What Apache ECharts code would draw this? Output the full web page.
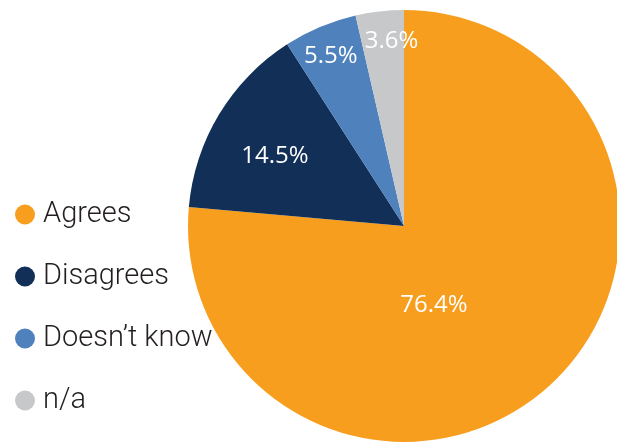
<!DOCTYPE html>
<html>
<head>
<meta charset="utf-8">
<script src="https://cdn.jsdelivr.net/npm/echarts@6/dist/echarts.min.js"></script>
<style>
html,body{margin:0;padding:0;background:#fff;}
#chart{width:617px;height:443px;}
</style>
</head>
<body>
<div id="chart"></div>
<script>
const categories = ['Agrees', 'Disagrees', 'Doesn\u2019t know', 'n/a'];
const values = [76.4, 14.5, 5.5, 3.6];
const colors = ['#F89E1E', '#112F57', '#4F81BD', '#C7C8CA'];
// per-slice label nudges (pixels), styling only
const labelNudge = [[-45, -3], [-34, -12], [-30, -68], [0, -75]];

const chart = echarts.init(document.getElementById('chart'), null, {renderer: 'canvas'});
chart.setOption({
  animation: false,
  backgroundColor: '#ffffff',
  color: colors,
  legend: {
    orient: 'vertical',
    left: 10,
    top: 195,
    icon: 'circle',
    itemWidth: 20,
    itemHeight: 20,
    itemGap: 33,
    textStyle: {
      fontFamily: 'Roboto',
      fontWeight: 300,
      fontSize: 29,
      lineHeight: 29,
      color: '#231F20',
      padding: [0, 0, 0, 3]
    },
    data: categories
  },
  series: [{
    type: 'pie',
    center: [404, 226],
    radius: 216,
    startAngle: 90,
    clockwise: true,
    avoidLabelOverlap: false,
    label: {
      show: true,
      position: 'inside',
      formatter: p => p.value.toFixed(1) + '%',
      color: '#ffffff',
      fontFamily: 'Open Sans',
      fontSize: 24
    },
    labelLine: {show: false},
    labelLayout: function (params) {
      const n = labelNudge[params.dataIndex] || [0, 0];
      return {dx: n[0], dy: n[1]};
    },
    itemStyle: {borderWidth: 0},
    emphasis: {disabled: true},
    data: categories.map((c, i) => ({name: c, value: values[i]}))
  }]
});
</script>
</body>
</html>
